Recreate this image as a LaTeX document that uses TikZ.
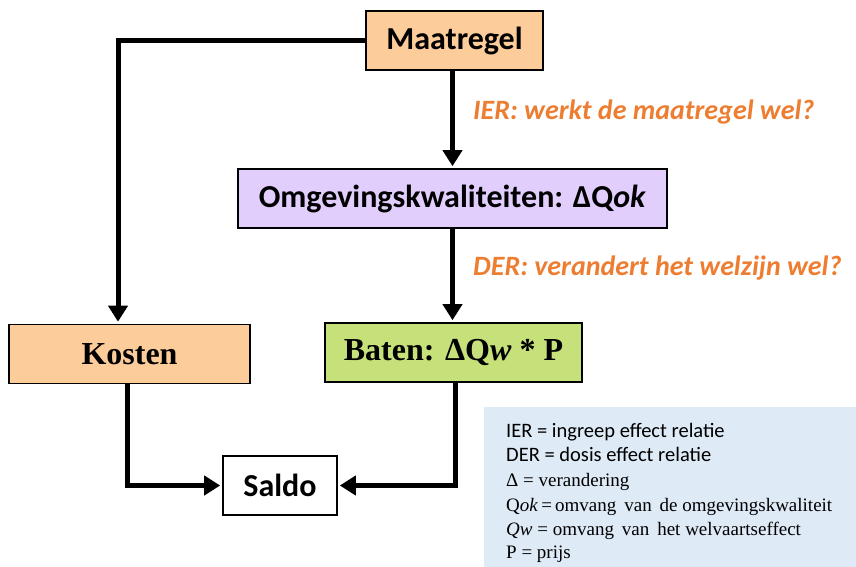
\documentclass[tikz,border=0pt]{standalone}
\usepackage{fontspec}
\setmainfont{Liberation Serif}
\newfontfamily\calibri{Carlito}
\usetikzlibrary{arrows.meta}

\definecolor{perzik}{RGB}{252,204,154}
\definecolor{lila}{RGB}{225,206,252}
\definecolor{groen}{RGB}{198,224,122}
\definecolor{lichtblauw}{RGB}{222,234,246}
\definecolor{oranje}{RGB}{237,125,49}

\tikzset{
  blok/.style={draw=black,line width=1.6pt,inner sep=0pt,minimum height=59pt},
  pijl/.style={line width=5pt,-{Triangle[length=16pt,width=19pt]},shorten >=2pt},
  vraag/.style={anchor=base west,inner sep=0pt,text=oranje,font=\calibri\fontsize{28}{32}\selectfont\bfseries\itshape},
  uitleg/.style={anchor=base west,inner sep=0pt}
}

\begin{document}
\begin{tikzpicture}[x=1pt,y=-1pt]
        \useasboundingbox (0,0) rectangle (856,567);

        \node[blok,fill=perzik,minimum width=177pt] (maatregel) at (454.5,40.5)
          {\calibri\fontsize{32}{36}\selectfont\bfseries Maatregel};
        \node[blok,fill=lila,minimum width=429pt] (omgeving) at (452.5,198.5)
          {\calibri\fontsize{32}{36}\selectfont\bfseries Omgevingskwaliteiten: ΔQ\textit{ok}};
        \node[blok,fill=perzik,minimum width=241pt] (kosten) at (129.5,354)
          {\fontsize{32}{36}\selectfont\bfseries Kosten};
        \node[blok,fill=groen,minimum width=257pt] (baten) at (453.5,352.5)
          {\fontsize{32}{36}\selectfont\bfseries Baten: ΔQ\textit{w} * P};
        \node[blok,fill=white,minimum width=114pt] (saldo) at (280,485.5)
          {\calibri\fontsize{32}{36}\selectfont\bfseries Saldo};

        \node[vraag] (ier) at (473,120) {IER: werkt de maatregel wel?};
        \node[vraag] (der) at (473,275) {DER: verandert het welzijn wel?};

        \coordinate (hoek) at (118,40.5);
        \draw[pijl] (maatregel.west) -- (hoek) -- (hoek |- kosten.north);
        \draw[pijl] (maatregel.south -| omgeving.north) -- (omgeving.north);
        \draw[pijl] (omgeving.south) -- (omgeving.south |- baten.north);
        \draw[pijl] ([xshift=-2pt]kosten.south) |- (saldo.west);
        \draw[pijl] ([xshift=1.5pt]baten.south) |- (saldo.east);

        % legenda
        \fill[lichtblauw] (484,407) rectangle (856,567);
        \node[uitleg] (l1) at (506,437) {\calibri\fontsize{20.5}{22}\selectfont IER = ingreep effect relatie};
        \node[uitleg] (l2) at (506,461.5) {\calibri\fontsize{20.5}{22}\selectfont DER = dosis effect relatie};
        \node[uitleg] (l3) at (506,486) {\fontsize{19}{22}\selectfont Δ = verandering};
        \node[uitleg] (l4) at (506,511) {\fontsize{19}{22}\selectfont Q\textit{ok}\,=\,omvang\, van\, de omgevingskwaliteit};
        \node[uitleg] (l5) at (506,535) {\fontsize{19}{22}\selectfont \textit{Qw} = omvang\, van\, het welvaartseffect};
        \node[uitleg] (l6) at (506,558) {\fontsize{19}{22}\selectfont P = prijs};
      \end{tikzpicture}
\end{document}
